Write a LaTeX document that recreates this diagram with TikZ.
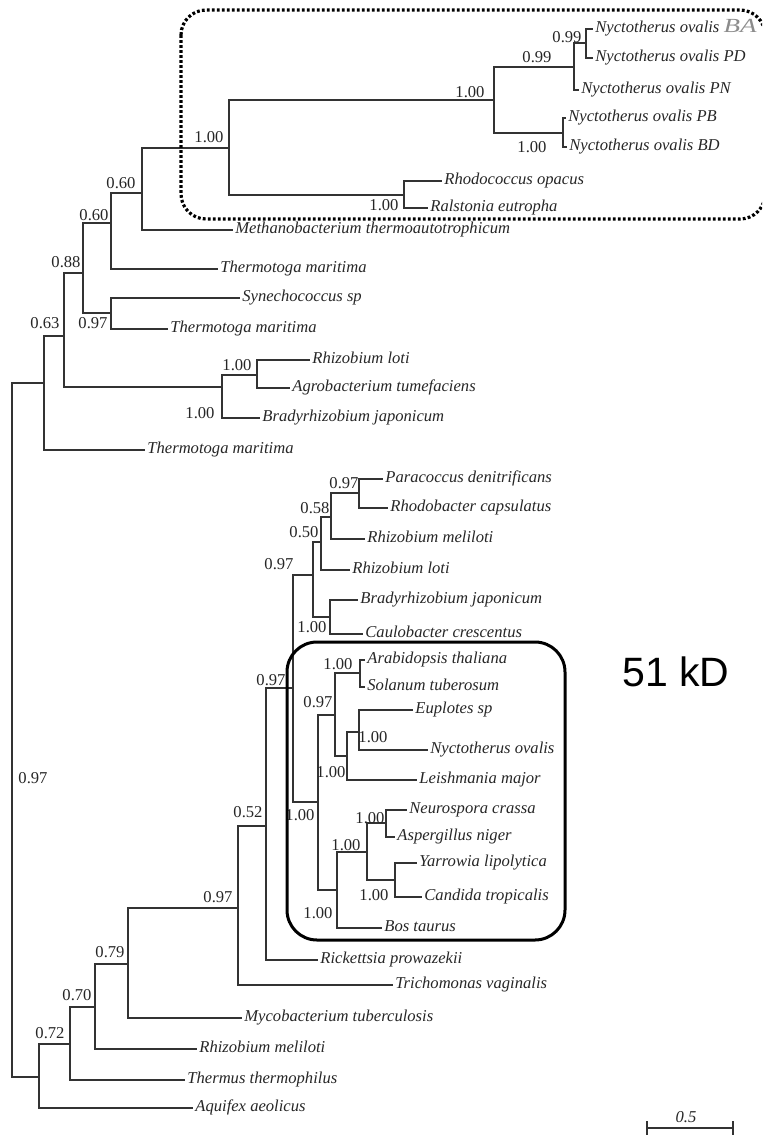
\documentclass[tikz,border=0pt]{standalone}
\usepackage{fontspec}
\setmainfont{Liberation Serif}
\newfontfamily\kdfont{Liberation Sans}
\usepackage{graphicx}
\usepackage{xcolor}

\begin{document}
\begin{tikzpicture}[
  x=0.5pt, y=-0.5pt,
  taxon/.style={anchor=west, inner xsep=1pt, inner ysep=0pt, text height=5.7pt,
                text depth=1.8pt, text=black!85,
                font=\fontsize{8.3}{9}\selectfont\itshape},
  supp/.style={inner sep=0pt, text=black!85, font=\fontsize{8.3}{9}\selectfont},
  branch/.style={draw=black!80, line width=0.8pt},
  clade/.style={draw, line width=1.5pt, rounded corners=15pt},
  region/.style={draw, line width=1.6pt, dash pattern=on 1.4pt off 1.1pt,
                 rounded corners=12.5pt}
]
  \useasboundingbox (0,0) rectangle (762,1135);

  % upper group
  \node[taxon] (ba)     at (593,29)  {Nyctotherus ovalis \textcolor{black!45}{\fontsize{10}{10}\selectfont\scalebox{1.35}[1]{BA}}};
  \node[taxon] (pd)     at (593,58)  {Nyctotherus ovalis PD};
  \node[taxon] (pn)     at (579,90)  {Nyctotherus ovalis PN};
  \node[taxon] (pb)     at (566,118) {Nyctotherus ovalis PB};
  \node[taxon] (bd)     at (567,147) {Nyctotherus ovalis BD};
  \node[taxon] (rhodo)  at (442,181) {Rhodococcus opacus};
  \node[taxon] (ralst)  at (428,208) {Ralstonia eutropha};
  \node[taxon] (metha)  at (233,230) {Methanobacterium thermoautotrophicum};
  \node[taxon] (therA)  at (218,269) {Thermotoga maritima};
  \node[taxon] (synec)  at (240,298) {Synechococcus sp};
  \node[taxon] (therB)  at (168,329) {Thermotoga maritima};
  \node[taxon] (rlotiA) at (310,360) {Rhizobium loti};
  \node[taxon] (agrob)  at (290,388) {Agrobacterium tumefaciens};
  \node[taxon] (bradyA) at (260,418) {Bradyrhizobium japonicum};
  \node[taxon] (therC)  at (145,450) {Thermotoga maritima};

  \coordinate (n1)  at (586,43);
  \coordinate (n2)  at (574,67);
  \coordinate (n3)  at (563,133);
  \coordinate (n4)  at (494,100);
  \coordinate (n5)  at (404,195);
  \coordinate (n6)  at (229,148);
  \coordinate (n7)  at (142,193);
  \coordinate (n8)  at (111,223);
  \coordinate (n9)  at (111,313);
  \coordinate (n10) at (83,273);
  \coordinate (n11) at (257,375);
  \coordinate (n12) at (222,387);
  \coordinate (n13) at (64,336);
  \coordinate (n14) at (44,383);

  % lower group
  \node[taxon] (parac)  at (383,479) {Paracoccus denitrificans};
  \node[taxon] (rcaps)  at (388,508) {Rhodobacter capsulatus};
  \node[taxon] (rmelA)  at (365,539) {Rhizobium meliloti};
  \node[taxon] (rlotiB) at (350,570) {Rhizobium loti};
  \node[taxon] (bradyB) at (358,600) {Bradyrhizobium japonicum};
  \node[taxon] (caulo)  at (363,634) {Caulobacter crescentus};
  \node[taxon] (arabi)  at (365,660) {Arabidopsis thaliana};
  \node[taxon] (solan)  at (365,687) {Solanum tuberosum};
  \node[taxon] (euplo)  at (413,710) {Euplotes sp};
  \node[taxon] (nyctO)  at (428,750) {Nyctotherus ovalis};
  \node[taxon] (leish)  at (417,780) {Leishmania major};
  \node[taxon] (neuro)  at (407,810) {Neurospora crassa};
  \node[taxon] (asper)  at (395,837) {Aspergillus niger};
  \node[taxon] (yarro)  at (417,863) {Yarrowia lipolytica};
  \node[taxon] (candi)  at (422,897) {Candida tropicalis};
  \node[taxon] (bos)    at (382,928) {Bos taurus};
  \node[taxon] (ricke)  at (318,960) {Rickettsia prowazekii};
  \node[taxon] (trich)  at (393,985) {Trichomonas vaginalis};
  \node[taxon] (mycob)  at (242,1018) {Mycobacterium tuberculosis};
  \node[taxon] (rmelB)  at (197,1049) {Rhizobium meliloti};
  \node[taxon] (therm)  at (185,1080) {Thermus thermophilus};
  \node[taxon] (aquif)  at (193,1108) {Aquifex aeolicus};

  \coordinate (p1) at (359,493);
  \coordinate (p2) at (331,517);
  \coordinate (p3) at (321,542);
  \coordinate (p4) at (330,617);
  \coordinate (p5) at (313,575);
  \coordinate (e1) at (360,673);
  \coordinate (e2) at (359,732);
  \coordinate (e3) at (347,756);
  \coordinate (e4) at (335,715);
  \coordinate (f1) at (386,823);
  \coordinate (f2) at (395,880);
  \coordinate (f3) at (367,852);
  \coordinate (f4) at (337,890);
  \coordinate (e5) at (318,802);
  \coordinate (q1) at (293,688);
  \coordinate (q2) at (266,826);
  \coordinate (q3) at (238,908);
  \coordinate (q4) at (128,964);
  \coordinate (q5) at (95,1007);
  \coordinate (q6) at (70,1044);
  \coordinate (q7) at (39,1077);
  \coordinate (root) at (12,730);

  \draw[branch] (n1) |- (ba.west);   \draw[branch] (n1) |- (pd.west);
  \draw[branch] (n2) |- (n1);        \draw[branch] (n2) |- (pn.west);
  \draw[branch] (n3) |- (pb.west);   \draw[branch] (n3) |- (bd.west);
  \draw[branch] (n4) |- (n2);        \draw[branch] (n4) |- (n3);
  \draw[branch] (n5) |- (rhodo.west); \draw[branch] (n5) |- (ralst.west);
  \draw[branch] (n6) |- (n4);        \draw[branch] (n6) |- (n5);
  \draw[branch] (n7) |- (n6);        \draw[branch] (n7) |- (metha.west);
  \draw[branch] (n8) |- (n7);        \draw[branch] (n8) |- (therA.west);
  \draw[branch] (n9) |- (synec.west); \draw[branch] (n9) |- (therB.west);
  \draw[branch] (n10) |- (n8);       \draw[branch] (n10) |- (n9);
  \draw[branch] (n11) |- (rlotiA.west); \draw[branch] (n11) |- (agrob.west);
  \draw[branch] (n12) |- (n11);      \draw[branch] (n12) |- (bradyA.west);
  \draw[branch] (n13) |- (n10);      \draw[branch] (n13) |- (n12);
  \draw[branch] (n14) |- (n13);      \draw[branch] (n14) |- (therC.west);

  \draw[branch] (p1) |- (parac.west); \draw[branch] (p1) |- (rcaps.west);
  \draw[branch] (p2) |- (p1);        \draw[branch] (p2) |- (rmelA.west);
  \draw[branch] (p3) |- (p2);        \draw[branch] (p3) |- (rlotiB.west);
  \draw[branch] (p4) |- (bradyB.west); \draw[branch] (p4) |- (caulo.west);
  \draw[branch] (p5) |- (p3);        \draw[branch] (p5) |- (p4);
  \draw[branch] (e1) |- (arabi.west); \draw[branch] (e1) |- (solan.west);
  \draw[branch] (e2) |- (euplo.west); \draw[branch] (e2) |- (nyctO.west);
  \draw[branch] (e3) |- (e2);        \draw[branch] (e3) |- (leish.west);
  \draw[branch] (e4) |- (e1);        \draw[branch] (e4) |- (e3);
  \draw[branch] (f1) |- (neuro.west); \draw[branch] (f1) |- (asper.west);
  \draw[branch] (f2) |- (yarro.west); \draw[branch] (f2) |- (candi.west);
  \draw[branch] (f3) |- (f1);        \draw[branch] (f3) |- (f2);
  \draw[branch] (f4) |- (f3);        \draw[branch] (f4) |- (bos.west);
  \draw[branch] (e5) |- (e4);        \draw[branch] (e5) |- (f4);
  \draw[branch] (q1) |- (p5);        \draw[branch] (q1) |- (e5);
  \draw[branch] (q2) |- (q1);        \draw[branch] (q2) |- (ricke.west);
  \draw[branch] (q3) |- (q2);        \draw[branch] (q3) |- (trich.west);
  \draw[branch] (q4) |- (q3);        \draw[branch] (q4) |- (mycob.west);
  \draw[branch] (q5) |- (q4);        \draw[branch] (q5) |- (rmelB.west);
  \draw[branch] (q6) |- (q5);        \draw[branch] (q6) |- (therm.west);
  \draw[branch] (q7) |- (q6);        \draw[branch] (q7) |- (aquif.west);
  \draw[branch] (root) |- (n14);     \draw[branch] (root) |- (q7);

  % support values
  \node[supp] (s1)  at (567,37)   {0.99};
  \node[supp] (s2)  at (537,57)   {0.99};
  \node[supp] (s3)  at (470,92)   {1.00};
  \node[supp] (s4)  at (532,147)  {1.00};
  \node[supp] (s5)  at (209,137)  {1.00};
  \node[supp] (s6)  at (384,205)  {1.00};
  \node[supp] (s7)  at (121,183)  {0.60};
  \node[supp] (s8)  at (94,215)   {0.60};
  \node[supp] (s9)  at (66,262)   {0.88};
  \node[supp] (s10) at (93,323)   {0.97};
  \node[supp] (s11) at (45,323)   {0.63};
  \node[supp] (s12) at (237,365)  {1.00};
  \node[supp] (s13) at (200,413)  {1.00};
  \node[supp] (s14) at (344,483)  {0.97};
  \node[supp] (s15) at (315,508)  {0.58};
  \node[supp] (s16) at (304,532)  {0.50};
  \node[supp] (s17) at (279,564)  {0.97};
  \node[supp] (s18) at (312,627)  {1.00};
  \node[supp] (s19) at (271,680)  {0.97};
  \node[supp] (s20) at (338,664)  {1.00};
  \node[supp] (s21) at (318,702)  {0.97};
  \node[supp] (s22) at (373,737)  {1.00};
  \node[supp] (s23) at (331,772)  {1.00};
  \node[supp] (s24) at (300,815)  {1.00};
  \node[supp] (s25) at (370,818)  {1.00};
  \node[supp] (s26) at (346,845)  {1.00};
  \node[supp] (s27) at (374,895)  {1.00};
  \node[supp] (s28) at (318,913)  {1.00};
  \node[supp] (s29) at (248,812)  {0.52};
  \node[supp] (s30) at (218,897)  {0.97};
  \node[supp] (s31) at (110,952)  {0.79};
  \node[supp] (s32) at (77,995)   {0.70};
  \node[supp] (s33) at (50,1033)  {0.72};
  \node[supp] (s34) at (33,778)   {0.97};

  % outlines
  \begin{scope}
    \clip (0,0) rectangle (762,1135);
    \draw[region] (181,10) rectangle (765,219);
  \end{scope}
  \draw[clade] (287,642) rectangle (565,940);
  \node[anchor=base west, inner sep=0pt, font=\kdfont\fontsize{20.5}{22}\selectfont]
    (kd) at (622,686) {51 kD};

  % scale bar
  \coordinate (sbl) at (647,1128);
  \coordinate (sbr) at (733,1128);
  \draw[branch] (sbl) -- (sbr);
  \draw[branch] ([yshift=3.5pt]sbl) -- ([yshift=-3.5pt]sbl);
  \draw[branch] ([yshift=3.5pt]sbr) -- ([yshift=-3.5pt]sbr);
  \node[supp, font=\fontsize{8.3}{9}\selectfont\itshape] (sblab) at (686,1117) {0.5};
\end{tikzpicture}
\end{document}
